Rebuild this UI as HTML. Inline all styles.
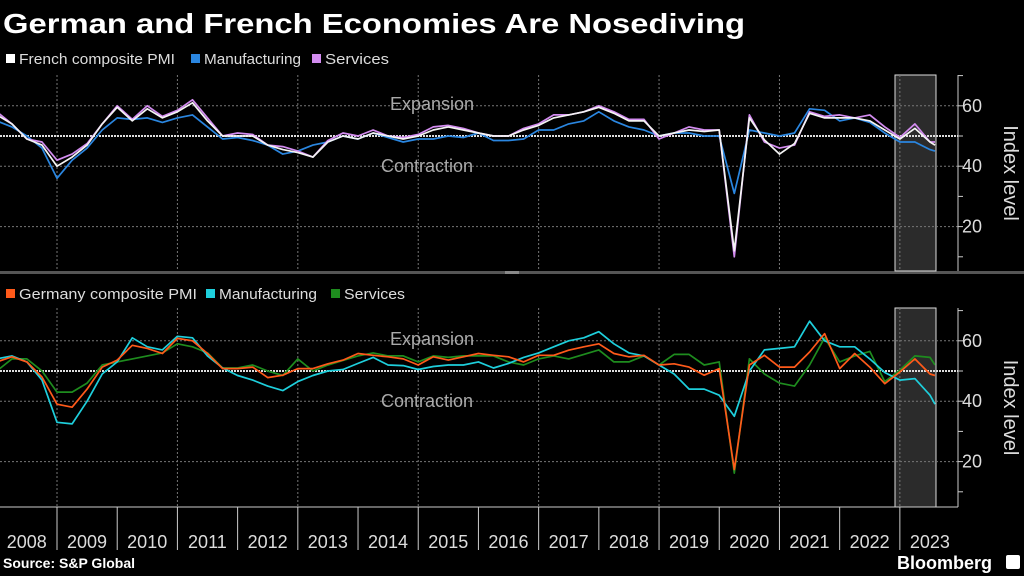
<!DOCTYPE html>
<html><head><meta charset="utf-8">
<style>
html,body{margin:0;padding:0;background:#000;width:1024px;height:576px;overflow:hidden;font-family:"Liberation Sans",sans-serif;color:#fff}
svg{position:absolute;left:0;top:0}
</style></head>
<body>
<svg id="chart" width="1024" height="576">
<text x="3" y="33" font-size="28" font-weight="bold" fill="#fff" textLength="742" lengthAdjust="spacingAndGlyphs">German and French Economies Are Nosediving</text>
<g font-size="15" fill="#ddd">
<rect x="6" y="54" width="9" height="9" fill="#fff"/>
<text x="19" y="64" textLength="156" lengthAdjust="spacingAndGlyphs">French composite PMI</text>
<rect x="191" y="54" width="9" height="9" fill="#2a86e0"/>
<text x="204" y="64" textLength="97" lengthAdjust="spacingAndGlyphs">Manufacturing</text>
<rect x="312" y="54" width="9" height="9" fill="#d38cf0"/>
<text x="325" y="64" textLength="64" lengthAdjust="spacingAndGlyphs">Services</text>
</g>
<g font-size="15" fill="#ddd">
<rect x="6" y="289" width="9" height="9" fill="#ff5a1a"/>
<text x="19" y="299" textLength="178" lengthAdjust="spacingAndGlyphs">Germany composite PMI</text>
<rect x="206" y="289" width="9" height="9" fill="#1ecfdc"/>
<text x="219" y="299" textLength="98" lengthAdjust="spacingAndGlyphs">Manufacturing</text>
<rect x="331" y="289" width="9" height="9" fill="#1e8c1e"/>
<text x="344" y="299" textLength="61" lengthAdjust="spacingAndGlyphs">Services</text>
</g>
<rect x="0" y="271" width="1024" height="3" fill="#555"/>
<rect x="505" y="271" width="14" height="3" fill="#888"/>
<text x="3" y="568" font-size="14" font-weight="bold" fill="#fff">Source: S&amp;P Global</text>
<text x="897" y="569" font-size="18" font-weight="bold" fill="#fff">Bloomberg</text>
<rect x="1006" y="555" width="14" height="14" rx="2" fill="#fff"/>
</svg>
<script>
// months since Jan 2008
const months=[0,3,6,9,12,15,18,21,24,27,30,33,36,39,42,45,48,51,54,57,60,63,66,69,72,75,78,81,84,87,90,93,96,99,102,105,108,111,114,117,120,123,126,129,132,135,138,141,144,147,150,153,156,159,162,165,168,171,174,177,180,183,186,187];
const years=["2008","2009","2010","2011","2012","2013","2014","2015","2016","2017","2018","2019","2020","2021","2022","2023"];
const yTicks=[60,40,20];
const frComposite=[57,54,49,47,40,43,47,54,59.5,55,59,56,58,61,55,50,50,50,47,45.5,44.5,43,48,50,49,51,50,49,50,52,53,52,51,50,50,52,53.5,56,57,58,59.5,57.5,55,55,50,51,52,51.5,52,12,56,48.7,44,47.5,57.5,56,56,56,55,52,49,52.5,48,47];
const frManufacturing=[55,53,50,46,36,42,46,52,56,55.5,56,54.5,56,57,53,49,49.5,48.5,47,44,45,47,48,50,49,51,49.5,48,49,49,50,49.5,51,48.5,48.5,49,52,52,54,55,58,55,53,52,50,51,51,50,50,31,52,51,50,51,59,58.5,55,56,54.5,51,48,48,45.5,45];
const frServices=[58,54,49,48,42,44,47.5,54,60,55.5,60,56.5,58.5,62,56,50,51,50.5,47,46.5,45,43,48.5,51,50,52,50,49.5,50.5,53,53.5,52.5,51,50,50,52.5,54,57,57,58,60,58,55.5,55.5,49,51,53,52,52,10,57,48,46,47,58,56.5,57,56,57,53,49.5,54,48,48];
const deComposite=[53,54.7,53,48,39,38,44,51.3,53.6,58.5,57.5,55.8,60.8,60,55.8,50.8,50.8,51.3,47.8,48.6,50.8,50.8,52.4,53.6,55.8,55.2,54.7,54,52,54.7,53.6,54.7,55.8,55.2,54.7,53,55.2,55.2,56.9,58,59,55.8,54.7,55.2,52,52.4,51.3,48.6,50.8,17.4,52,55.2,51.3,51.3,56.3,62.4,50.8,55.8,51.3,45.8,49.7,54,49,48.5];
const deManufacturing=[54,55,53,47,33,32.5,40,49,53,61,58,57,61.5,61,55,51,48.5,47,45,43.5,46.5,48.5,50,50.5,52.5,54.5,52,51.8,50.5,51.5,52,52,53,51,52.5,54.5,56,58,60,61,63,59,56,55,52,49,44,44,42,35,50,57,57.5,58,66.5,60,58,58,54,49.5,47,47.5,42,39];
const deServices=[50,54,54,50,43,43,46,52,53,54,55,56,59,58,56,51,51,52,50,48.5,54,50,52,53.5,55,56,55,55,53,55,54.5,55,55,55,53,52,54,55,54,55.5,57,53,53,55,52,55.5,55.5,52,53,16.2,54,49,46,45,52,61,53,55,56.5,46.5,50.3,55,54.5,52];

const NS="http://www.w3.org/2000/svg";
const svg=document.getElementById('chart');
const X0=-3.2, PXM=5.017;
function xScale(m){return X0+m*PXM;}
function mk(tag,attrs,parent){const e=document.createElementNS(NS,tag);for(const k in attrs)e.setAttribute(k,attrs[k]);(parent||svg).appendChild(e);return e;}
function panel(name,top,bottom,y50,series,colors,names){
  const yScale=v=>y50-(v-50)*3.02;
  const g=mk('g',{});
  
  
  const sh=mk('rect',{x:895,y:top,width:41,height:bottom-top,fill:'#2b2b2b',stroke:'#ddd','stroke-width':1},g);
  
  
  for(let i=1;i<years.length;i+=2){
    const x=xScale((i)*12);
    const l=mk('line',{x1:x,x2:x,y1:top,y2:bottom,stroke:'#777','stroke-width':1,'stroke-dasharray':'2,2'},g);
    
    
  }
  yTicks.forEach(v=>{
    const y=yScale(v);
    const l=mk('line',{x1:0,x2:958,y1:y,y2:y,stroke:'#777','stroke-width':1,'stroke-dasharray':'2,2'},g);
    
    
    const t=mk('text',{x:962,y:y+6,'font-size':18,fill:'#ddd'},g);
    t.textContent=v;
    
    
  });
  [70,60,50,40,30,20,10].forEach(v=>{
    const y=yScale(v);
    if(y<top-2)return;
    const tk=mk('line',{x1:958,x2:963,y1:y,y2:y,stroke:'#ccc','stroke-width':1},g);
    
    
  });
  const ax=mk('line',{x1:958,x2:958,y1:top,y2:bottom,stroke:'#ccc','stroke-width':1},g);
  
  
  const ref=mk('line',{x1:0,x2:958,y1:y50,y2:y50,stroke:'#ddd','stroke-width':2,'stroke-dasharray':'2,1'},g);
  
  
  const e=mk('text',{x:432,y:y50-26,'font-size':18,fill:'#aaa','text-anchor':'middle'},g);
  e.textContent='Expansion';
  
  
  const c=mk('text',{x:427,y:y50+36,'font-size':18,fill:'#aaa','text-anchor':'middle'},g);
  c.textContent='Contraction';
  
  
  const yl=mk('text',{x:0,y:0,'font-size':20,fill:'#ddd','text-anchor':'middle',transform:`translate(1004,${(top+bottom)/2}) rotate(90)`},g);
  yl.textContent='Index level';
  
  
  series.forEach((s,k)=>{
    const d=s.map((v,i)=>(i?'L':'M')+xScale(months[i]).toFixed(1)+','+yScale(v).toFixed(1)).join('');
    const p=mk('path',{d:d,fill:'none',stroke:colors[k],'stroke-width':1.7,'stroke-linejoin':'round'},g);
    
    
  });
}
panel('france-panel',75,271,136,[frManufacturing,frServices,frComposite],['#2a86e0','#d38cf0','#f4f4f4'],['french-manufacturing-line','french-services-line','french-composite-line']);
panel('germany-panel',308,507,371,[deServices,deManufacturing,deComposite],['#1e8c1e','#1ecfdc','#ff5a1a'],['germany-services-line','germany-manufacturing-line','germany-composite-line']);
// x axis
const base=mk('line',{x1:0,x2:958,y1:507,y2:507,stroke:'#ccc','stroke-width':1});


years.forEach((yr,i)=>{
  const x0=xScale(i*12);
  if(i>0){
    const t=mk('line',{x1:x0,x2:x0,y1:507,y2:550,stroke:'#ccc','stroke-width':1});
    
    
  }
  const lab=mk('text',{x:x0+30,y:548,'font-size':18,fill:'#ddd','text-anchor':'middle'});
  lab.textContent=yr;
  
  
});
</script>
</body></html>
